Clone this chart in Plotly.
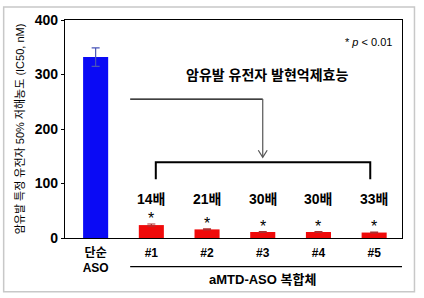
import plotly.graph_objects as go

categories = ["단순<br>ASO", "#1", "#2", "#3", "#4", "#5"]
aso_value = [332]
aso_error = [17]
amtd_values = [23.7, 15.8, 11.0, 11.0, 10.0]
amtd_errors = [2.0, 1.0, 0.6, 0.6, 0.8]
fold_labels = ["14배", "21배", "30배", "30배", "33배"]
y_ticks = [0, 100, 200, 300, 400]

FONT = "Liberation Sans, Arial, Noto Sans CJK KR, sans-serif"

fig = go.Figure()
fig.add_trace(go.Bar(
    x=categories[:1], y=aso_value, width=0.45,
    marker=dict(color="#0a0af5", line=dict(width=0)),
    error_y=dict(type="data", array=aso_error, visible=True,
                 color="#4a56b8", thickness=1.2, width=4),
))
fig.add_trace(go.Bar(
    x=categories[1:], y=amtd_values, width=0.45,
    marker=dict(color="#f00a0a", line=dict(width=0)),
    error_y=dict(type="data", array=amtd_errors, visible=True,
                 color="#b03030", thickness=1.2, width=4),
))

annotations = []
for i, (v, e, lab) in enumerate(zip(amtd_values, amtd_errors, fold_labels), start=1):
    annotations.append(dict(x=i, y=72, text=f"<b>{lab}</b>", showarrow=False,
                            font=dict(size=14, color="black", family=FONT),
                            xref="x", yref="y"))
    annotations.append(dict(x=i, y=v + e, text="*", showarrow=False,
                            yanchor="bottom", yshift=-5,
                            font=dict(size=16, color="black", family=FONT),
                            xref="x", yref="y"))

annotations += [
    dict(x=3.07, y=299, text="<b>암유발 유전자 발현억제효능</b>", showarrow=False,
         font=dict(size=14, color="black", family=FONT), xref="x", yref="y"),
    dict(x=0.975, y=0.935, xref="paper", yref="paper", xanchor="right",
         text="* <i>p</i> &lt; 0.01", showarrow=False,
         font=dict(size=11, color="black", family=FONT)),
    dict(x=3.0, y=-0.235, xref="x", yref="paper",
         text="<b>aMTD-ASO 복합체</b>", showarrow=False,
         font=dict(size=13, color="black", family=FONT)),
]

shapes = [
    # outer light frame
    dict(type="rect", xref="paper", yref="paper", x0=-0.182, x1=1.037, y0=-0.247, y1=1.06,
         line=dict(color="#c8c8c8", width=1.5), layer="below"),
    # arrow horizontal line
    dict(type="line", xref="x", yref="y", x0=0.62, x1=3.0, y0=255, y1=255,
         line=dict(color="black", width=1.2)),
    # arrow vertical line
    dict(type="line", xref="x", yref="y", x0=3.0, x1=3.0, y0=255, y1=149,
         line=dict(color="#555555", width=1.2)),
    # arrow head (open V)
    dict(type="path", xref="x", yref="y", path="M 2.92,161 L 3.0,148 L 3.08,161",
         line=dict(color="#555555", width=1.2)),
    # bracket
    dict(type="path", xref="x", yref="y",
         path="M 1.08,108 L 1.08,139 L 4.93,139 L 4.93,108",
         line=dict(color="black", width=2)),
    # group underline
    dict(type="line", xref="x", yref="paper", x0=0.62, x1=5.58, y0=-0.131, y1=-0.131,
         line=dict(color="black", width=1.2)),
]

fig.update_layout(
    width=424, height=298,
    margin=dict(l=65, r=22, t=17, b=60),
    paper_bgcolor="white", plot_bgcolor="white",
    showlegend=False, barmode="overlay",
    font=dict(family=FONT, color="black"),
    annotations=annotations, shapes=shapes,
    xaxis=dict(type="category", range=[-0.55, 5.5], showline=True, mirror=True,
               linecolor="black", linewidth=1.2, ticks="outside", ticklen=3,
               tickcolor="rgba(0,0,0,0)", showgrid=False,
               tickfont=dict(size=12, family=FONT, color="black"),
               tickvals=categories, ticktext=[f"<b>{c}</b>" for c in categories]),
    yaxis=dict(range=[0, 400], tickvals=y_ticks, showline=True, mirror=True,
               linecolor="black", linewidth=1.2, ticks="outside", ticklen=3,
               tickcolor="black", showgrid=False, zeroline=False,
               tickfont=dict(size=14, family=FONT, color="black"),
               ticktext=[f"<b>{t}</b>" for t in y_ticks],
               title=dict(text="암유발 특정 유전자 50% 저해농도 (IC50, nM)",
                          font=dict(size=11, family=FONT, color="black"), standoff=7)),
)

fig.write_html("out.html")
